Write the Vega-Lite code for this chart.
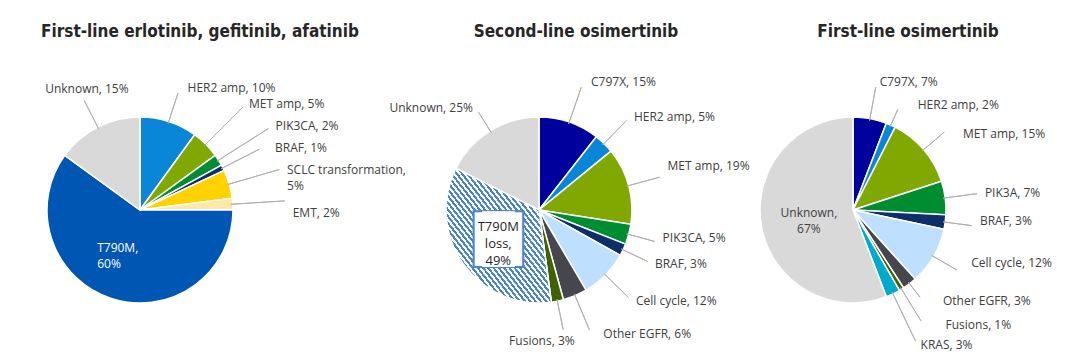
{
  "$schema": "https://vega.github.io/schema/vega-lite/v6.json",
  "padding": {"left": 0, "top": 23, "right": 0, "bottom": 0},
  "bounds": "flush",
  "spacing": 0,
  "resolve": {"scale": {"theta": "independent"}},
  "config": {
    "view": {"stroke": null},
    "title": {"font": "DejaVu Sans Condensed, DejaVu Sans", "fontSize": 17, "fontWeight": "bold", "color": "#262626", "anchor": "middle", "frame": "group", "offset": 29, "baseline": "alphabetic"},
    "text": {"font": "Open Sans", "fontSize": 12, "color": "#404040", "lineBreak": "\n", "lineHeight": 16}
  },
  "datasets": {
    "p1": [
      {"o": 1, "cat": "HER2 amp", "value": 10, "label": "HER2 amp, 10%"},
      {"o": 2, "cat": "MET amp", "value": 5, "label": "MET amp, 5%"},
      {"o": 3, "cat": "PIK3CA", "value": 2, "label": "PIK3CA, 2%"},
      {"o": 4, "cat": "BRAF", "value": 1, "label": "BRAF, 1%"},
      {"o": 5, "cat": "SCLC transformation", "value": 5, "label": "SCLC transformation,\n5%"},
      {"o": 6, "cat": "EMT", "value": 2, "label": "EMT, 2%"},
      {"o": 7, "cat": "T790M", "value": 60, "label": "T790M,\n60%"},
      {"o": 8, "cat": "Unknown", "value": 15, "label": "Unknown, 15%"}
    ],
    "p2": [
      {"o": 1, "cat": "C797X", "value": 15, "label": "C797X, 15%"},
      {"o": 2, "cat": "HER2 amp", "value": 5, "label": "HER2 amp, 5%"},
      {"o": 3, "cat": "MET amp", "value": 19, "label": "MET amp, 19%"},
      {"o": 4, "cat": "PIK3CA", "value": 5, "label": "PIK3CA, 5%"},
      {"o": 5, "cat": "BRAF", "value": 3, "label": "BRAF, 3%"},
      {"o": 6, "cat": "Cell cycle", "value": 12, "label": "Cell cycle, 12%"},
      {"o": 7, "cat": "Other EGFR", "value": 6, "label": "Other EGFR, 6%"},
      {"o": 8, "cat": "Fusions", "value": 3, "label": "Fusions, 3%"},
      {"o": 9, "cat": "T790M loss", "value": 49, "label": "T790M\nloss,\n49%"},
      {"o": 10, "cat": "Unknown", "value": 25, "label": "Unknown, 25%"}
    ],
    "p3": [
      {"o": 1, "cat": "C797X", "value": 7, "label": "C797X, 7%"},
      {"o": 2, "cat": "HER2 amp", "value": 2, "label": "HER2 amp, 2%"},
      {"o": 3, "cat": "MET amp", "value": 15, "label": "MET amp, 15%"},
      {"o": 4, "cat": "PIK3A", "value": 7, "label": "PIK3A, 7%"},
      {"o": 5, "cat": "BRAF", "value": 3, "label": "BRAF, 3%"},
      {"o": 6, "cat": "Cell cycle", "value": 12, "label": "Cell cycle, 12%"},
      {"o": 7, "cat": "Other EGFR", "value": 3, "label": "Other EGFR, 3%"},
      {"o": 8, "cat": "Fusions", "value": 1, "label": "Fusions, 1%"},
      {"o": 9, "cat": "KRAS", "value": 3, "label": "KRAS, 3%"},
      {"o": 10, "cat": "Unknown", "value": 67, "label": "Unknown,\n67%"}
    ]
  },
  "hconcat": [
    {
      "width": 280, "height": 280,
      "title": {"text": "First-line erlotinib, gefitinib, afatinib", "dx": 60},
      "data": {"name": "p1"},
      "layer": [
        {"mark": {"type": "arc", "outerRadius": 93, "stroke": "#FFFFFF", "strokeWidth": 1.5},
         "encoding": {
           "theta": {"field": "value", "type": "quantitative", "stack": true},
           "order": {"field": "o", "type": "quantitative"},
           "color": {"field": "cat", "type": "nominal", "legend": null,
           "scale": {"domain": ["HER2 amp","MET amp","PIK3CA","PIK3A","BRAF","SCLC transformation","EMT","T790M","Unknown","C797X","Cell cycle","Other EGFR","Fusions","KRAS","T790M loss"],
                     "range": ["#0A86D9","#80A800","#008C30","#008C30","#0D2D6B","#FFD200","#FFE8A6","#0056B3","#D9D9D9","#00009C","#BFDFFF","#46464F","#3F6100","#00A9CE","#FFFFFF"]}}}},
        {"transform": [{"stack": "value", "groupby": [], "sort": [{"field": "o", "order": "ascending"}], "as": ["v0", "v1"]}, {"filter": "indexof(['HER2 amp','Unknown'], datum.cat) >= 0"}],
         "mark": {"type": "arc", "innerRadius": 91, "outerRadius": 123, "padAngle": 3.14, "filled": false, "stroke": "#B0B0B0", "strokeWidth": 1},
         "encoding": {"theta": {"field": "v0", "type": "quantitative", "stack": null}, "theta2": {"field": "v1"}}},
        {"transform": [{"stack": "value", "groupby": [], "sort": [{"field": "o", "order": "ascending"}], "as": ["v0", "v1"]}, {"filter": "indexof(['MET amp','SCLC transformation','EMT'], datum.cat) >= 0"}],
         "mark": {"type": "arc", "innerRadius": 91, "outerRadius": 145, "padAngle": 3.14, "filled": false, "stroke": "#B0B0B0", "strokeWidth": 1},
         "encoding": {"theta": {"field": "v0", "type": "quantitative", "stack": null}, "theta2": {"field": "v1"}}},
        {"transform": [{"stack": "value", "groupby": [], "sort": [{"field": "o", "order": "ascending"}], "as": ["v0", "v1"]}, {"filter": "datum.cat === 'PIK3CA'"}],
         "mark": {"type": "arc", "innerRadius": 91, "outerRadius": 152, "padAngle": 3.14, "filled": false, "stroke": "#B0B0B0", "strokeWidth": 1},
         "encoding": {"theta": {"field": "v0", "type": "quantitative", "stack": null}, "theta2": {"field": "v1"}}},
        {"transform": [{"stack": "value", "groupby": [], "sort": [{"field": "o", "order": "ascending"}], "as": ["v0", "v1"]}, {"filter": "datum.cat === 'BRAF'"}],
         "mark": {"type": "arc", "innerRadius": 91, "outerRadius": 134, "padAngle": 3.14, "filled": false, "stroke": "#B0B0B0", "strokeWidth": 1},
         "encoding": {"theta": {"field": "v0", "type": "quantitative", "stack": null}, "theta2": {"field": "v1"}}},
        {"transform": [{"stack": "value", "groupby": [], "sort": [{"field": "o", "order": "ascending"}], "as": ["v0", "v1"]}, {"filter": "datum.cat === 'HER2 amp'"}, {"fold": ["v0", "v1"], "as": ["edge", "ang"]}],
         "mark": {"type": "text", "radius": 128, "align": "left", "baseline": "middle", "dx": 8},
         "encoding": {"theta": {"field": "ang", "type": "quantitative", "aggregate": "mean", "stack": null}, "text": {"field": "label", "type": "nominal"}}},
        {"transform": [{"stack": "value", "groupby": [], "sort": [{"field": "o", "order": "ascending"}], "as": ["v0", "v1"]}, {"filter": "datum.cat === 'MET amp'"}, {"fold": ["v0", "v1"], "as": ["edge", "ang"]}],
         "mark": {"type": "text", "radius": 150, "align": "left", "baseline": "middle", "dx": 3},
         "encoding": {"theta": {"field": "ang", "type": "quantitative", "aggregate": "mean", "stack": null}, "text": {"field": "label", "type": "nominal"}}},
        {"transform": [{"stack": "value", "groupby": [], "sort": [{"field": "o", "order": "ascending"}], "as": ["v0", "v1"]}, {"filter": "datum.cat === 'PIK3CA'"}, {"fold": ["v0", "v1"], "as": ["edge", "ang"]}],
         "mark": {"type": "text", "radius": 157, "align": "left", "baseline": "middle", "dx": 3},
         "encoding": {"theta": {"field": "ang", "type": "quantitative", "aggregate": "mean", "stack": null}, "text": {"field": "label", "type": "nominal"}}},
        {"transform": [{"stack": "value", "groupby": [], "sort": [{"field": "o", "order": "ascending"}], "as": ["v0", "v1"]}, {"filter": "datum.cat === 'BRAF'"}, {"fold": ["v0", "v1"], "as": ["edge", "ang"]}],
         "mark": {"type": "text", "radius": 137, "align": "left", "baseline": "middle", "dx": 13},
         "encoding": {"theta": {"field": "ang", "type": "quantitative", "aggregate": "mean", "stack": null}, "text": {"field": "label", "type": "nominal"}}},
        {"transform": [{"stack": "value", "groupby": [], "sort": [{"field": "o", "order": "ascending"}], "as": ["v0", "v1"]}, {"filter": "datum.cat === 'SCLC transformation'"}, {"fold": ["v0", "v1"], "as": ["edge", "ang"]}],
         "mark": {"type": "text", "radius": 150, "align": "left", "baseline": "middle", "dx": 3, "dy": 2},
         "encoding": {"theta": {"field": "ang", "type": "quantitative", "aggregate": "mean", "stack": null}, "text": {"field": "label", "type": "nominal"}}},
        {"transform": [{"stack": "value", "groupby": [], "sort": [{"field": "o", "order": "ascending"}], "as": ["v0", "v1"]}, {"filter": "datum.cat === 'EMT'"}, {"fold": ["v0", "v1"], "as": ["edge", "ang"]}],
         "mark": {"type": "text", "radius": 150, "align": "left", "baseline": "middle", "dx": 3, "dy": 12},
         "encoding": {"theta": {"field": "ang", "type": "quantitative", "aggregate": "mean", "stack": null}, "text": {"field": "label", "type": "nominal"}}},
        {"transform": [{"stack": "value", "groupby": [], "sort": [{"field": "o", "order": "ascending"}], "as": ["v0", "v1"]}, {"filter": "datum.cat === 'Unknown'"}, {"fold": ["v0", "v1"], "as": ["edge", "ang"]}],
         "mark": {"type": "text", "radius": 128, "align": "center", "baseline": "bottom", "dx": 5},
         "encoding": {"theta": {"field": "ang", "type": "quantitative", "aggregate": "mean", "stack": null}, "text": {"field": "label", "type": "nominal"}}},
        {"transform": [{"stack": "value", "groupby": [], "sort": [{"field": "o", "order": "ascending"}], "as": ["v0", "v1"]}, {"filter": "datum.cat === 'T790M'"}, {"fold": ["v0", "v1"], "as": ["edge", "ang"]}],
         "mark": {"type": "text", "radius": 48, "align": "left", "baseline": "middle", "dx": -28, "dy": -8, "color": "#FFFFFF"},
         "encoding": {"theta": {"field": "ang", "type": "quantitative", "aggregate": "mean", "stack": null}, "text": {"field": "label", "type": "nominal"}}}
      ]
    },
    {
      "width": 518, "height": 280,
      "title": {"text": "Second-line osimertinib", "dx": 37},
      "data": {"name": "p2"},
      "layer": [
        {"mark": {"type": "arc", "outerRadius": 93, "stroke": "#FFFFFF", "strokeWidth": 1.5},
         "encoding": {
           "theta": {"field": "value", "type": "quantitative", "stack": true},
           "order": {"field": "o", "type": "quantitative"},
           "color": {"field": "cat", "type": "nominal", "legend": null,
           "scale": {"domain": ["HER2 amp","MET amp","PIK3CA","PIK3A","BRAF","SCLC transformation","EMT","T790M","Unknown","C797X","Cell cycle","Other EGFR","Fusions","KRAS","T790M loss"],
                     "range": ["#0A86D9","#80A800","#008C30","#008C30","#0D2D6B","#FFD200","#FFE8A6","#0056B3","#D9D9D9","#00009C","#BFDFFF","#46464F","#3F6100","#00A9CE","#FFFFFF"]}}}},
        {"transform": [{"stack": "value", "groupby": [], "sort": [{"field": "o", "order": "ascending"}], "as": ["v0", "v1"]}, {"filter": "datum.cat === 'T790M loss'"}],
         "mark": {"type": "arc", "outerRadius": 93, "stroke": "#FFFFFF", "strokeWidth": 1.5,
                  "fill": {"gradient": "linear", "x1": 0, "y1": 1, "x2": 1, "y2": 0, "stops": [
{"offset":0,"color":"#4A84CF"},{"offset":0.0125,"color":"#4A84CF"},{"offset":0.0125,"color":"#FFFFFF"},{"offset":0.025,"color":"#FFFFFF"},
{"offset":0.025,"color":"#4A84CF"},{"offset":0.0375,"color":"#4A84CF"},{"offset":0.0375,"color":"#FFFFFF"},{"offset":0.05,"color":"#FFFFFF"},
{"offset":0.05,"color":"#4A84CF"},{"offset":0.0625,"color":"#4A84CF"},{"offset":0.0625,"color":"#FFFFFF"},{"offset":0.075,"color":"#FFFFFF"},
{"offset":0.075,"color":"#4A84CF"},{"offset":0.0875,"color":"#4A84CF"},{"offset":0.0875,"color":"#FFFFFF"},{"offset":0.1,"color":"#FFFFFF"},
{"offset":0.1,"color":"#4A84CF"},{"offset":0.1125,"color":"#4A84CF"},{"offset":0.1125,"color":"#FFFFFF"},{"offset":0.125,"color":"#FFFFFF"},
{"offset":0.125,"color":"#4A84CF"},{"offset":0.1375,"color":"#4A84CF"},{"offset":0.1375,"color":"#FFFFFF"},{"offset":0.15,"color":"#FFFFFF"},
{"offset":0.15,"color":"#4A84CF"},{"offset":0.1625,"color":"#4A84CF"},{"offset":0.1625,"color":"#FFFFFF"},{"offset":0.175,"color":"#FFFFFF"},
{"offset":0.175,"color":"#4A84CF"},{"offset":0.1875,"color":"#4A84CF"},{"offset":0.1875,"color":"#FFFFFF"},{"offset":0.2,"color":"#FFFFFF"},
{"offset":0.2,"color":"#4A84CF"},{"offset":0.2125,"color":"#4A84CF"},{"offset":0.2125,"color":"#FFFFFF"},{"offset":0.225,"color":"#FFFFFF"},
{"offset":0.225,"color":"#4A84CF"},{"offset":0.2375,"color":"#4A84CF"},{"offset":0.2375,"color":"#FFFFFF"},{"offset":0.25,"color":"#FFFFFF"},
{"offset":0.25,"color":"#4A84CF"},{"offset":0.2625,"color":"#4A84CF"},{"offset":0.2625,"color":"#FFFFFF"},{"offset":0.275,"color":"#FFFFFF"},
{"offset":0.275,"color":"#4A84CF"},{"offset":0.2875,"color":"#4A84CF"},{"offset":0.2875,"color":"#FFFFFF"},{"offset":0.3,"color":"#FFFFFF"},
{"offset":0.3,"color":"#4A84CF"},{"offset":0.3125,"color":"#4A84CF"},{"offset":0.3125,"color":"#FFFFFF"},{"offset":0.325,"color":"#FFFFFF"},
{"offset":0.325,"color":"#4A84CF"},{"offset":0.3375,"color":"#4A84CF"},{"offset":0.3375,"color":"#FFFFFF"},{"offset":0.35,"color":"#FFFFFF"},
{"offset":0.35,"color":"#4A84CF"},{"offset":0.3625,"color":"#4A84CF"},{"offset":0.3625,"color":"#FFFFFF"},{"offset":0.375,"color":"#FFFFFF"},
{"offset":0.375,"color":"#4A84CF"},{"offset":0.3875,"color":"#4A84CF"},{"offset":0.3875,"color":"#FFFFFF"},{"offset":0.4,"color":"#FFFFFF"},
{"offset":0.4,"color":"#4A84CF"},{"offset":0.4125,"color":"#4A84CF"},{"offset":0.4125,"color":"#FFFFFF"},{"offset":0.425,"color":"#FFFFFF"},
{"offset":0.425,"color":"#4A84CF"},{"offset":0.4375,"color":"#4A84CF"},{"offset":0.4375,"color":"#FFFFFF"},{"offset":0.45,"color":"#FFFFFF"},
{"offset":0.45,"color":"#4A84CF"},{"offset":0.4625,"color":"#4A84CF"},{"offset":0.4625,"color":"#FFFFFF"},{"offset":0.475,"color":"#FFFFFF"},
{"offset":0.475,"color":"#4A84CF"},{"offset":0.4875,"color":"#4A84CF"},{"offset":0.4875,"color":"#FFFFFF"},{"offset":0.5,"color":"#FFFFFF"},
{"offset":0.5,"color":"#4A84CF"},{"offset":0.5125,"color":"#4A84CF"},{"offset":0.5125,"color":"#FFFFFF"},{"offset":0.525,"color":"#FFFFFF"},
{"offset":0.525,"color":"#4A84CF"},{"offset":0.5375,"color":"#4A84CF"},{"offset":0.5375,"color":"#FFFFFF"},{"offset":0.55,"color":"#FFFFFF"},
{"offset":0.55,"color":"#4A84CF"},{"offset":0.5625,"color":"#4A84CF"},{"offset":0.5625,"color":"#FFFFFF"},{"offset":0.575,"color":"#FFFFFF"},
{"offset":0.575,"color":"#4A84CF"},{"offset":0.5875,"color":"#4A84CF"},{"offset":0.5875,"color":"#FFFFFF"},{"offset":0.6,"color":"#FFFFFF"},
{"offset":0.6,"color":"#4A84CF"},{"offset":0.6125,"color":"#4A84CF"},{"offset":0.6125,"color":"#FFFFFF"},{"offset":0.625,"color":"#FFFFFF"},
{"offset":0.625,"color":"#4A84CF"},{"offset":0.6375,"color":"#4A84CF"},{"offset":0.6375,"color":"#FFFFFF"},{"offset":0.65,"color":"#FFFFFF"},
{"offset":0.65,"color":"#4A84CF"},{"offset":0.6625,"color":"#4A84CF"},{"offset":0.6625,"color":"#FFFFFF"},{"offset":0.675,"color":"#FFFFFF"},
{"offset":0.675,"color":"#4A84CF"},{"offset":0.6875,"color":"#4A84CF"},{"offset":0.6875,"color":"#FFFFFF"},{"offset":0.7,"color":"#FFFFFF"},
{"offset":0.7,"color":"#4A84CF"},{"offset":0.7125,"color":"#4A84CF"},{"offset":0.7125,"color":"#FFFFFF"},{"offset":0.725,"color":"#FFFFFF"},
{"offset":0.725,"color":"#4A84CF"},{"offset":0.7375,"color":"#4A84CF"},{"offset":0.7375,"color":"#FFFFFF"},{"offset":0.75,"color":"#FFFFFF"},
{"offset":0.75,"color":"#4A84CF"},{"offset":0.7625,"color":"#4A84CF"},{"offset":0.7625,"color":"#FFFFFF"},{"offset":0.775,"color":"#FFFFFF"},
{"offset":0.775,"color":"#4A84CF"},{"offset":0.7875,"color":"#4A84CF"},{"offset":0.7875,"color":"#FFFFFF"},{"offset":0.8,"color":"#FFFFFF"},
{"offset":0.8,"color":"#4A84CF"},{"offset":0.8125,"color":"#4A84CF"},{"offset":0.8125,"color":"#FFFFFF"},{"offset":0.825,"color":"#FFFFFF"},
{"offset":0.825,"color":"#4A84CF"},{"offset":0.8375,"color":"#4A84CF"},{"offset":0.8375,"color":"#FFFFFF"},{"offset":0.85,"color":"#FFFFFF"},
{"offset":0.85,"color":"#4A84CF"},{"offset":0.8625,"color":"#4A84CF"},{"offset":0.8625,"color":"#FFFFFF"},{"offset":0.875,"color":"#FFFFFF"},
{"offset":0.875,"color":"#4A84CF"},{"offset":0.8875,"color":"#4A84CF"},{"offset":0.8875,"color":"#FFFFFF"},{"offset":0.9,"color":"#FFFFFF"},
{"offset":0.9,"color":"#4A84CF"},{"offset":0.9125,"color":"#4A84CF"},{"offset":0.9125,"color":"#FFFFFF"},{"offset":0.925,"color":"#FFFFFF"},
{"offset":0.925,"color":"#4A84CF"},{"offset":0.9375,"color":"#4A84CF"},{"offset":0.9375,"color":"#FFFFFF"},{"offset":0.95,"color":"#FFFFFF"},
{"offset":0.95,"color":"#4A84CF"},{"offset":0.9625,"color":"#4A84CF"},{"offset":0.9625,"color":"#FFFFFF"},{"offset":0.975,"color":"#FFFFFF"},
{"offset":0.975,"color":"#4A84CF"},{"offset":0.9875,"color":"#4A84CF"},{"offset":0.9875,"color":"#FFFFFF"},{"offset":1,"color":"#FFFFFF"}
                  ]}},
         "encoding": {"theta": {"field": "v0", "type": "quantitative", "stack": null}, "theta2": {"field": "v1"}}},
        {"transform": [{"stack": "value", "groupby": [], "sort": [{"field": "o", "order": "ascending"}], "as": ["v0", "v1"]}, {"filter": "indexof(['C797X','Other EGFR'], datum.cat) >= 0"}],
         "mark": {"type": "arc", "innerRadius": 91, "outerRadius": 130, "padAngle": 3.14, "filled": false, "stroke": "#B0B0B0", "strokeWidth": 1},
         "encoding": {"theta": {"field": "v0", "type": "quantitative", "stack": null}, "theta2": {"field": "v1"}}},
        {"transform": [{"stack": "value", "groupby": [], "sort": [{"field": "o", "order": "ascending"}], "as": ["v0", "v1"]}, {"filter": "indexof(['HER2 amp','MET amp','Cell cycle'], datum.cat) >= 0"}],
         "mark": {"type": "arc", "innerRadius": 91, "outerRadius": 125, "padAngle": 3.14, "filled": false, "stroke": "#B0B0B0", "strokeWidth": 1},
         "encoding": {"theta": {"field": "v0", "type": "quantitative", "stack": null}, "theta2": {"field": "v1"}}},
        {"transform": [{"stack": "value", "groupby": [], "sort": [{"field": "o", "order": "ascending"}], "as": ["v0", "v1"]}, {"filter": "indexof(['PIK3CA','BRAF'], datum.cat) >= 0"}],
         "mark": {"type": "arc", "innerRadius": 91, "outerRadius": 120, "padAngle": 3.14, "filled": false, "stroke": "#B0B0B0", "strokeWidth": 1},
         "encoding": {"theta": {"field": "v0", "type": "quantitative", "stack": null}, "theta2": {"field": "v1"}}},
        {"transform": [{"stack": "value", "groupby": [], "sort": [{"field": "o", "order": "ascending"}], "as": ["v0", "v1"]}, {"filter": "datum.cat === 'Fusions'"}],
         "mark": {"type": "arc", "innerRadius": 91, "outerRadius": 122, "padAngle": 3.14, "filled": false, "stroke": "#B0B0B0", "strokeWidth": 1},
         "encoding": {"theta": {"field": "v0", "type": "quantitative", "stack": null}, "theta2": {"field": "v1"}}},
        {"transform": [{"stack": "value", "groupby": [], "sort": [{"field": "o", "order": "ascending"}], "as": ["v0", "v1"]}, {"filter": "datum.cat === 'Unknown'"}],
         "mark": {"type": "arc", "innerRadius": 91, "outerRadius": 115, "padAngle": 3.14, "filled": false, "stroke": "#B0B0B0", "strokeWidth": 1},
         "encoding": {"theta": {"field": "v0", "type": "quantitative", "stack": null}, "theta2": {"field": "v1"}}},
        {"transform": [{"stack": "value", "groupby": [], "sort": [{"field": "o", "order": "ascending"}], "as": ["v0", "v1"]}, {"filter": "datum.cat === 'C797X'"}, {"fold": ["v0", "v1"], "as": ["edge", "ang"]}],
         "mark": {"type": "text", "radius": 135, "align": "left", "baseline": "middle", "dx": 8},
         "encoding": {"theta": {"field": "ang", "type": "quantitative", "aggregate": "mean", "stack": null}, "text": {"field": "label", "type": "nominal"}}},
        {"transform": [{"stack": "value", "groupby": [], "sort": [{"field": "o", "order": "ascending"}], "as": ["v0", "v1"]}, {"filter": "datum.cat === 'Other EGFR'"}, {"fold": ["v0", "v1"], "as": ["edge", "ang"]}],
         "mark": {"type": "text", "radius": 135, "align": "left", "baseline": "middle", "dx": 12},
         "encoding": {"theta": {"field": "ang", "type": "quantitative", "aggregate": "mean", "stack": null}, "text": {"field": "label", "type": "nominal"}}},
        {"transform": [{"stack": "value", "groupby": [], "sort": [{"field": "o", "order": "ascending"}], "as": ["v0", "v1"]}, {"filter": "indexof(['HER2 amp','Cell cycle'], datum.cat) >= 0"}, {"fold": ["v0", "v1"], "as": ["edge", "ang"]}],
         "mark": {"type": "text", "radius": 130, "align": "left", "baseline": "middle", "dx": 4},
         "encoding": {"theta": {"field": "ang", "type": "quantitative", "aggregate": "mean", "stack": null}, "text": {"field": "label", "type": "nominal"}}},
        {"transform": [{"stack": "value", "groupby": [], "sort": [{"field": "o", "order": "ascending"}], "as": ["v0", "v1"]}, {"filter": "datum.cat === 'MET amp'"}, {"fold": ["v0", "v1"], "as": ["edge", "ang"]}],
         "mark": {"type": "text", "radius": 130, "align": "left", "baseline": "middle", "dx": 3, "dy": -10},
         "encoding": {"theta": {"field": "ang", "type": "quantitative", "aggregate": "mean", "stack": null}, "text": {"field": "label", "type": "nominal"}}},
        {"transform": [{"stack": "value", "groupby": [], "sort": [{"field": "o", "order": "ascending"}], "as": ["v0", "v1"]}, {"filter": "datum.cat === 'PIK3CA'"}, {"fold": ["v0", "v1"], "as": ["edge", "ang"]}],
         "mark": {"type": "text", "radius": 125, "align": "left", "baseline": "middle", "dx": 3, "dy": -5},
         "encoding": {"theta": {"field": "ang", "type": "quantitative", "aggregate": "mean", "stack": null}, "text": {"field": "label", "type": "nominal"}}},
        {"transform": [{"stack": "value", "groupby": [], "sort": [{"field": "o", "order": "ascending"}], "as": ["v0", "v1"]}, {"filter": "datum.cat === 'BRAF'"}, {"fold": ["v0", "v1"], "as": ["edge", "ang"]}],
         "mark": {"type": "text", "radius": 125, "align": "left", "baseline": "middle", "dx": 3},
         "encoding": {"theta": {"field": "ang", "type": "quantitative", "aggregate": "mean", "stack": null}, "text": {"field": "label", "type": "nominal"}}},
        {"transform": [{"stack": "value", "groupby": [], "sort": [{"field": "o", "order": "ascending"}], "as": ["v0", "v1"]}, {"filter": "datum.cat === 'Fusions'"}, {"fold": ["v0", "v1"], "as": ["edge", "ang"]}],
         "mark": {"type": "text", "radius": 130, "align": "right", "baseline": "middle", "dx": 10, "dy": 4},
         "encoding": {"theta": {"field": "ang", "type": "quantitative", "aggregate": "mean", "stack": null}, "text": {"field": "label", "type": "nominal"}}},
        {"transform": [{"stack": "value", "groupby": [], "sort": [{"field": "o", "order": "ascending"}], "as": ["v0", "v1"]}, {"filter": "datum.cat === 'Unknown'"}, {"fold": ["v0", "v1"], "as": ["edge", "ang"]}],
         "mark": {"type": "text", "radius": 120, "align": "right", "baseline": "middle", "dx": -3},
         "encoding": {"theta": {"field": "ang", "type": "quantitative", "aggregate": "mean", "stack": null}, "text": {"field": "label", "type": "nominal"}}},
        {"transform": [{"stack": "value", "groupby": [], "sort": [{"field": "o", "order": "ascending"}], "as": ["v0", "v1"]}, {"filter": "datum.cat === 'T790M loss'"}, {"fold": ["v0", "v1"], "as": ["edge", "ang"]}],
         "mark": {"type": "text", "radius": 50, "align": "center", "baseline": "middle", "dx": -8.5, "dy": 0, "font": "Liberation Sans", "fontSize": 46, "fill": "#FFFFFF", "stroke": "#4A84CF", "strokeWidth": 2},
         "encoding": {"theta": {"field": "ang", "type": "quantitative", "aggregate": "mean", "stack": null}, "text": {"value": "█"}}},
        {"transform": [{"stack": "value", "groupby": [], "sort": [{"field": "o", "order": "ascending"}], "as": ["v0", "v1"]}, {"filter": "datum.cat === 'T790M loss'"}, {"fold": ["v0", "v1"], "as": ["edge", "ang"]}],
         "mark": {"type": "text", "radius": 50, "align": "center", "baseline": "middle", "dx": 8.5, "dy": 0, "font": "Liberation Sans", "fontSize": 46, "fill": "#FFFFFF", "stroke": "#4A84CF", "strokeWidth": 2},
         "encoding": {"theta": {"field": "ang", "type": "quantitative", "aggregate": "mean", "stack": null}, "text": {"value": "█"}}},
        {"transform": [{"stack": "value", "groupby": [], "sort": [{"field": "o", "order": "ascending"}], "as": ["v0", "v1"]}, {"filter": "datum.cat === 'T790M loss'"}, {"fold": ["v0", "v1"], "as": ["edge", "ang"]}],
         "mark": {"type": "text", "radius": 50, "align": "center", "baseline": "middle", "dy": 0, "font": "Liberation Sans", "fontSize": 46, "fill": "#FFFFFF"},
         "encoding": {"theta": {"field": "ang", "type": "quantitative", "aggregate": "mean", "stack": null}, "text": {"value": "█"}}},
        {"transform": [{"stack": "value", "groupby": [], "sort": [{"field": "o", "order": "ascending"}], "as": ["v0", "v1"]}, {"filter": "datum.cat === 'T790M loss'"}, {"fold": ["v0", "v1"], "as": ["edge", "ang"]}],
         "mark": {"type": "text", "radius": 50, "align": "center", "baseline": "middle", "dy": -12, "fontSize": 13, "lineHeight": 17, "color": "#262626"},
         "encoding": {"theta": {"field": "ang", "type": "quantitative", "aggregate": "mean", "stack": null}, "text": {"field": "label", "type": "nominal"}}}
      ]
    },
    {
      "width": 110, "height": 280,
      "title": {"text": "First-line osimertinib", "dx": 55},
      "data": {"name": "p3"},
      "layer": [
        {"mark": {"type": "arc", "outerRadius": 93, "stroke": "#FFFFFF", "strokeWidth": 1.5},
         "encoding": {
           "theta": {"field": "value", "type": "quantitative", "stack": true},
           "order": {"field": "o", "type": "quantitative"},
           "color": {"field": "cat", "type": "nominal", "legend": null,
           "scale": {"domain": ["HER2 amp","MET amp","PIK3CA","PIK3A","BRAF","SCLC transformation","EMT","T790M","Unknown","C797X","Cell cycle","Other EGFR","Fusions","KRAS","T790M loss"],
                     "range": ["#0A86D9","#80A800","#008C30","#008C30","#0D2D6B","#FFD200","#FFE8A6","#0056B3","#D9D9D9","#00009C","#BFDFFF","#46464F","#3F6100","#00A9CE","#FFFFFF"]}}}},
        {"transform": [{"stack": "value", "groupby": [], "sort": [{"field": "o", "order": "ascending"}], "as": ["v0", "v1"]}, {"filter": "indexof(['C797X','PIK3A'], datum.cat) >= 0"}],
         "mark": {"type": "arc", "innerRadius": 91, "outerRadius": 125, "padAngle": 3.14, "filled": false, "stroke": "#B0B0B0", "strokeWidth": 1},
         "encoding": {"theta": {"field": "v0", "type": "quantitative", "stack": null}, "theta2": {"field": "v1"}}},
        {"transform": [{"stack": "value", "groupby": [], "sort": [{"field": "o", "order": "ascending"}], "as": ["v0", "v1"]}, {"filter": "indexof(['HER2 amp','Other EGFR'], datum.cat) >= 0"}],
         "mark": {"type": "arc", "innerRadius": 91, "outerRadius": 110, "padAngle": 3.14, "filled": false, "stroke": "#B0B0B0", "strokeWidth": 1},
         "encoding": {"theta": {"field": "v0", "type": "quantitative", "stack": null}, "theta2": {"field": "v1"}}},
        {"transform": [{"stack": "value", "groupby": [], "sort": [{"field": "o", "order": "ascending"}], "as": ["v0", "v1"]}, {"filter": "indexof(['MET amp','BRAF','Cell cycle'], datum.cat) >= 0"}],
         "mark": {"type": "arc", "innerRadius": 91, "outerRadius": 120, "padAngle": 3.14, "filled": false, "stroke": "#B0B0B0", "strokeWidth": 1},
         "encoding": {"theta": {"field": "v0", "type": "quantitative", "stack": null}, "theta2": {"field": "v1"}}},
        {"transform": [{"stack": "value", "groupby": [], "sort": [{"field": "o", "order": "ascending"}], "as": ["v0", "v1"]}, {"filter": "datum.cat === 'Fusions'"}],
         "mark": {"type": "arc", "innerRadius": 91, "outerRadius": 130, "padAngle": 3.14, "filled": false, "stroke": "#B0B0B0", "strokeWidth": 1},
         "encoding": {"theta": {"field": "v0", "type": "quantitative", "stack": null}, "theta2": {"field": "v1"}}},
        {"transform": [{"stack": "value", "groupby": [], "sort": [{"field": "o", "order": "ascending"}], "as": ["v0", "v1"]}, {"filter": "datum.cat === 'KRAS'"}],
         "mark": {"type": "arc", "innerRadius": 91, "outerRadius": 145, "padAngle": 3.14, "filled": false, "stroke": "#B0B0B0", "strokeWidth": 1},
         "encoding": {"theta": {"field": "v0", "type": "quantitative", "stack": null}, "theta2": {"field": "v1"}}},
        {"transform": [{"stack": "value", "groupby": [], "sort": [{"field": "o", "order": "ascending"}], "as": ["v0", "v1"]}, {"filter": "indexof(['C797X','PIK3A'], datum.cat) >= 0"}, {"fold": ["v0", "v1"], "as": ["edge", "ang"]}],
         "mark": {"type": "text", "radius": 130, "align": "left", "baseline": "middle", "dx": 3},
         "encoding": {"theta": {"field": "ang", "type": "quantitative", "aggregate": "mean", "stack": null}, "text": {"field": "label", "type": "nominal"}}},
        {"transform": [{"stack": "value", "groupby": [], "sort": [{"field": "o", "order": "ascending"}], "as": ["v0", "v1"]}, {"filter": "datum.cat === 'HER2 amp'"}, {"fold": ["v0", "v1"], "as": ["edge", "ang"]}],
         "mark": {"type": "text", "radius": 115, "align": "left", "baseline": "middle", "dx": 18},
         "encoding": {"theta": {"field": "ang", "type": "quantitative", "aggregate": "mean", "stack": null}, "text": {"field": "label", "type": "nominal"}}},
        {"transform": [{"stack": "value", "groupby": [], "sort": [{"field": "o", "order": "ascending"}], "as": ["v0", "v1"]}, {"filter": "datum.cat === 'MET amp'"}, {"fold": ["v0", "v1"], "as": ["edge", "ang"]}],
         "mark": {"type": "text", "radius": 125, "align": "left", "baseline": "middle", "dx": 15, "dy": 5},
         "encoding": {"theta": {"field": "ang", "type": "quantitative", "aggregate": "mean", "stack": null}, "text": {"field": "label", "type": "nominal"}}},
        {"transform": [{"stack": "value", "groupby": [], "sort": [{"field": "o", "order": "ascending"}], "as": ["v0", "v1"]}, {"filter": "datum.cat === 'BRAF'"}, {"fold": ["v0", "v1"], "as": ["edge", "ang"]}],
         "mark": {"type": "text", "radius": 125, "align": "left", "baseline": "middle", "dx": 3, "dy": -5},
         "encoding": {"theta": {"field": "ang", "type": "quantitative", "aggregate": "mean", "stack": null}, "text": {"field": "label", "type": "nominal"}}},
        {"transform": [{"stack": "value", "groupby": [], "sort": [{"field": "o", "order": "ascending"}], "as": ["v0", "v1"]}, {"filter": "datum.cat === 'Cell cycle'"}, {"fold": ["v0", "v1"], "as": ["edge", "ang"]}],
         "mark": {"type": "text", "radius": 125, "align": "left", "baseline": "middle", "dx": 10, "dy": -10},
         "encoding": {"theta": {"field": "ang", "type": "quantitative", "aggregate": "mean", "stack": null}, "text": {"field": "label", "type": "nominal"}}},
        {"transform": [{"stack": "value", "groupby": [], "sort": [{"field": "o", "order": "ascending"}], "as": ["v0", "v1"]}, {"filter": "datum.cat === 'Other EGFR'"}, {"fold": ["v0", "v1"], "as": ["edge", "ang"]}],
         "mark": {"type": "text", "radius": 115, "align": "left", "baseline": "middle", "dx": 20},
         "encoding": {"theta": {"field": "ang", "type": "quantitative", "aggregate": "mean", "stack": null}, "text": {"field": "label", "type": "nominal"}}},
        {"transform": [{"stack": "value", "groupby": [], "sort": [{"field": "o", "order": "ascending"}], "as": ["v0", "v1"]}, {"filter": "datum.cat === 'Fusions'"}, {"fold": ["v0", "v1"], "as": ["edge", "ang"]}],
         "mark": {"type": "text", "radius": 135, "align": "left", "baseline": "middle", "dx": 22},
         "encoding": {"theta": {"field": "ang", "type": "quantitative", "aggregate": "mean", "stack": null}, "text": {"field": "label", "type": "nominal"}}},
        {"transform": [{"stack": "value", "groupby": [], "sort": [{"field": "o", "order": "ascending"}], "as": ["v0", "v1"]}, {"filter": "datum.cat === 'KRAS'"}, {"fold": ["v0", "v1"], "as": ["edge", "ang"]}],
         "mark": {"type": "text", "radius": 150, "align": "left", "baseline": "middle", "dx": 3},
         "encoding": {"theta": {"field": "ang", "type": "quantitative", "aggregate": "mean", "stack": null}, "text": {"field": "label", "type": "nominal"}}},
        {"transform": [{"stack": "value", "groupby": [], "sort": [{"field": "o", "order": "ascending"}], "as": ["v0", "v1"]}, {"filter": "datum.cat === 'Unknown'"}, {"fold": ["v0", "v1"], "as": ["edge", "ang"]}],
         "mark": {"type": "text", "radius": 55, "align": "center", "baseline": "middle", "dx": 10, "dy": -7},
         "encoding": {"theta": {"field": "ang", "type": "quantitative", "aggregate": "mean", "stack": null}, "text": {"field": "label", "type": "nominal"}}}
      ]
    }
  ]
}
